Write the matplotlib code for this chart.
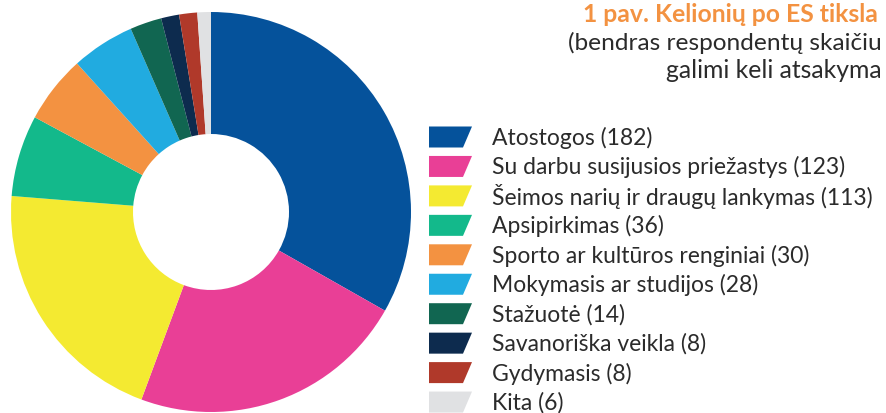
import matplotlib
matplotlib.use("Agg")
import matplotlib.pyplot as plt
from matplotlib.patches import Polygon

# Trip purposes and respondent counts
labels = ["Atostogos", "Su darbu susijusios priežastys", "Šeimos narių ir draugų lankymas",
          "Apsipirkimas", "Sporto ar kultūros renginiai", "Mokymasis ar studijos",
          "Stažuotė", "Savanoriška veikla", "Gydymasis", "Kita"]
counts = [182, 123, 113, 36, 30, 28, 14, 8, 8, 6]
colors = ["#05529B", "#E93F96", "#F4EA31", "#13B98B", "#F39241",
          "#21ABE0", "#116651", "#0D2B4E", "#B0392A", "#E0E1E3"]

# title as visible in the (cropped) original
title_lines = ["1 pav. Kelionių po ES tiksla",
               "(bendras respondentų skaičiu",
               "galimi keli atsakyma"]

W, H = 887, 414
fig = plt.figure(figsize=(W / 100, H / 100), dpi=100)
plt.rcParams["font.family"] = ["Lato", "DejaVu Sans"]
text_color = "#2B2B2B"

# donut, centred at (211, 213) px with radius 200 px
cx, cy, r = 211, 213, 200
ax = fig.add_axes([(cx - r) / W, (H - cy - r) / H, 2 * r / W, 2 * r / H])
ax.pie(counts, colors=colors, startangle=90, counterclock=False, radius=1,
       wedgeprops=dict(width=0.61, linewidth=0))
ax.set_xlim(-1, 1)
ax.set_ylim(-1, 1)
ax.set_aspect("equal")

# overlay axes in pixel units for legend and title
lax = fig.add_axes([0, 0, 1, 1])
lax.set_xlim(0, W)
lax.set_ylim(H, 0)
lax.axis("off")

y0, step = 138, 29.45
for i, (lab, n, c) in enumerate(zip(labels, counts, colors)):
    y = y0 + i * step
    lax.add_patch(Polygon([(429, y - 10.5), (472, y - 10.5), (463, y + 10.5), (429, y + 10.5)],
                          closed=True, facecolor=c, edgecolor="none"))
    lax.text(492, y, f"{lab} ({n})", fontsize=16.5, color=text_color, va="center", ha="left")

lax.text(583, 15, title_lines[0], fontsize=17.8, color="#F39241", fontweight="bold",
         va="center", ha="left")
lax.text(568, 43, title_lines[1], fontsize=17.6, color=text_color, va="center", ha="left")
lax.text(666, 70, title_lines[2], fontsize=17.8, color=text_color, va="center", ha="left")

fig.savefig("out.png", dpi=100)
